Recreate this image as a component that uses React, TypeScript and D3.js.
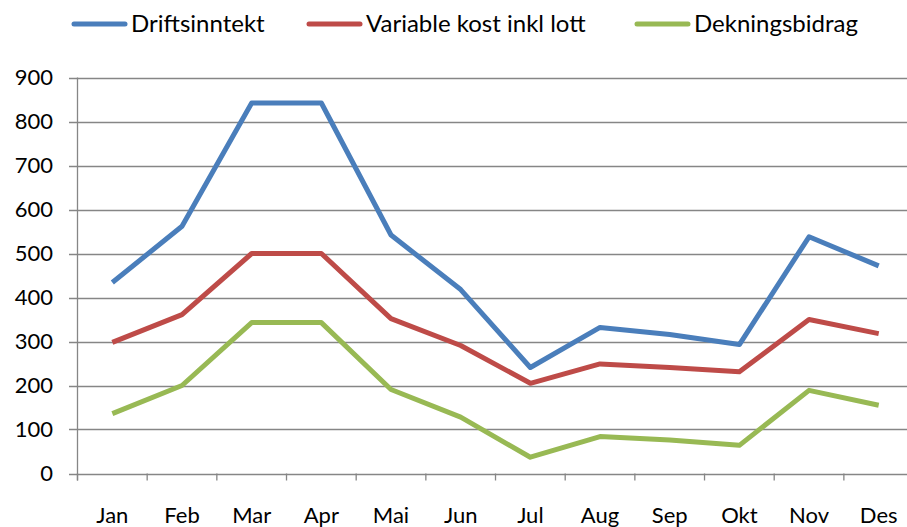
import React from "react";
import * as d3 from "d3";

const months = ["Jan", "Feb", "Mar", "Apr", "Mai", "Jun", "Jul", "Aug", "Sep", "Okt", "Nov", "Des"];
const driftsinntekt = [434, 562, 842, 842, 542, 418, 241, 332, 316, 293, 538, 472];
const variableKost = [298, 361, 500, 500, 352, 291, 205, 249, 241, 231, 350, 318];
const dekningsbidrag = [136, 200, 343, 343, 191, 128, 37, 84, 76, 64, 189, 155];
const yTicks = [0, 100, 200, 300, 400, 500, 600, 700, 800, 900];

const seriesList = [
  { name: "Driftsinntekt", values: driftsinntekt, color: "#4A7EBB" },
  { name: "Variable kost inkl lott", values: variableKost, color: "#BE4B48" },
  { name: "Dekningsbidrag", values: dekningsbidrag, color: "#98B954" },
];

const W = 907;
const H = 527;
const FONT = "Lato, 'Open Sans', sans-serif";

export default function App() {
  const x0 = 77.5;
  const step = 69.67;
  const x = d3.scaleBand<string>().domain(months).range([x0, x0 + step * months.length]).padding(0);
  const y = d3.scaleLinear().domain([0, 900]).range([473.5, 77.5]);
  const line = d3
    .line<number>()
    .x((_, i) => (x(months[i]) as number) + x.bandwidth() / 2)
    .y((d) => y(d));

  const legendX = [72, 307, 635];

  return (
    <svg width={W} height={H} style={{ position: "absolute", left: 0, top: 0, background: "#fff" }}>
      {yTicks.map((t) => (
        <line key={"g" + t} x1={69} x2={W} y1={Math.round(y(t)) + 0.5} y2={Math.round(y(t)) + 0.5} stroke="#868686" strokeWidth={1.3} />
      ))}
      <line x1={x0} x2={x0} y1={y(900)} y2={y(0) + 7} stroke="#868686" strokeWidth={1.3} />
      {months.map((m) => (
        <line key={"t" + m} x1={x(m) as number} x2={x(m) as number} y1={y(0)} y2={y(0) + 7} stroke="#868686" strokeWidth={1.3} />
      ))}
      {yTicks.map((t) => (
        <text key={"yl" + t} x={53} y={y(t) + 7.5} textAnchor="end" fontFamily={FONT} fontSize={22} fill="#000">
          {t}
        </text>
      ))}
      {months.map((m) => (
        <text key={"xl" + m} x={(x(m) as number) + x.bandwidth() / 2} y={523} textAnchor="middle" fontFamily={FONT} fontSize={22} fill="#000">
          {m}
        </text>
      ))}
      {seriesList.map((s) => (
        <path key={s.name} d={line(s.values) || ""} fill="none" stroke={s.color} strokeWidth={5} strokeLinejoin="round" strokeLinecap="butt" />
      ))}
      {seriesList.map((s, i) => (
        <g key={"lg" + s.name}>
          <line x1={legendX[i] + 2} x2={legendX[i] + 53} y1={24} y2={24} stroke={s.color} strokeWidth={5} strokeLinecap="round" />
          <text x={legendX[i] + 59} y={32} fontFamily={FONT} fontSize={24} fill="#000">
            {s.name}
          </text>
        </g>
      ))}
    </svg>
  );
}
